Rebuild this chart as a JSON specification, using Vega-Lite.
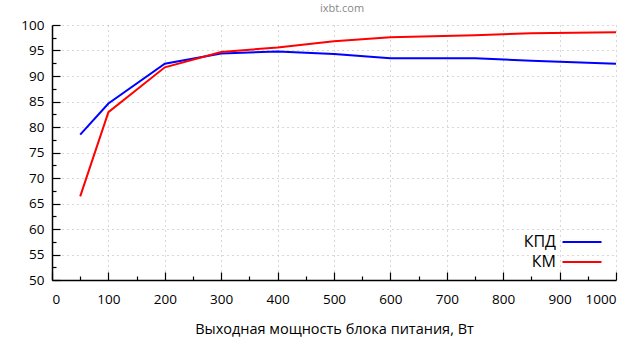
{
  "$schema": "https://vega.github.io/schema/vega-lite/v6.json",
  "width": 564,
  "height": 255,
  "autosize": "none",
  "padding": {"left": 52, "top": 25, "right": 24, "bottom": 80},
  "background": "white",
  "title": {"text": "ixbt.com", "fontSize": 11, "color": "#888888", "font": "Open Sans", "fontWeight": "normal", "offset": 4, "dx": 8, "anchor": "middle"},
  "config": {
    "view": {"stroke": null},
    "font": "Open Sans",
    "axis": {
      "labelFont": "Open Sans", "labelFontSize": 13.5, "labelColor": "#000000",
      "titleFont": "Open Sans", "titleFontSize": 14.5, "titleFontWeight": "normal", "titleColor": "#000000",
      "domainColor": "#000000", "domainWidth": 1.5, "tickColor": "#000000", "tickWidth": 1.2,
      "gridColor": "#b0b0b0", "gridDash": [1, 4], "gridWidth": 1
    }
  },
  "data": {"values": [
    {"p": 50, "v": 78.5, "s": "КПД"},
    {"p": 100, "v": 84.6, "s": "КПД"},
    {"p": 200, "v": 92.4, "s": "КПД"},
    {"p": 300, "v": 94.4, "s": "КПД"},
    {"p": 400, "v": 94.8, "s": "КПД"},
    {"p": 500, "v": 94.3, "s": "КПД"},
    {"p": 600, "v": 93.5, "s": "КПД"},
    {"p": 750, "v": 93.5, "s": "КПД"},
    {"p": 850, "v": 93.0, "s": "КПД"},
    {"p": 1000, "v": 92.4, "s": "КПД"},
    {"p": 50, "v": 66.4, "s": "КМ"},
    {"p": 100, "v": 82.9, "s": "КМ"},
    {"p": 200, "v": 91.7, "s": "КМ"},
    {"p": 300, "v": 94.7, "s": "КМ"},
    {"p": 400, "v": 95.6, "s": "КМ"},
    {"p": 500, "v": 96.8, "s": "КМ"},
    {"p": 600, "v": 97.6, "s": "КМ"},
    {"p": 750, "v": 98.0, "s": "КМ"},
    {"p": 850, "v": 98.4, "s": "КМ"},
    {"p": 1000, "v": 98.6, "s": "КМ"}
  ]},
  "layer": [
    {
      "mark": {"type": "line", "strokeWidth": 2},
      "encoding": {
        "x": {"field": "p", "type": "quantitative",
          "scale": {"domain": [0, 1000], "nice": false},
          "axis": {"orient": "bottom", "values": [0,100,200,300,400,500,600,700,800,900,1000], "format": "d", "tickSize": -8, "labelPadding": 20, "title": "Выходная мощность блока питания, Вт", "titlePadding": 17, "grid": true}},
        "y": {"field": "v", "type": "quantitative",
          "scale": {"domain": [50, 100], "nice": false, "zero": false},
          "axis": {"orient": "left", "values": [50,55,60,65,70,75,80,85,90,95,100], "format": "d", "tickSize": -8, "labelPadding": 16, "title": null, "grid": true}},
        "color": {"field": "s", "type": "nominal",
          "scale": {"domain": ["КПД", "КМ"], "range": ["#0000ff", "#ff0000"]},
          "legend": {"title": null, "orient": "none", "legendX": 522, "legendY": 209, "padding": 0,
            "symbolType": "M-3,0H3", "symbolSize": 169, "symbolStrokeWidth": 2, "symbolOpacity": 1,
            "labelAlign": "right", "labelOffset": -34, "labelFontSize": 16, "labelFont": "Open Sans", "labelColor": "#000000",
            "rowPadding": 4}}
      }
    },
    {
      "mark": {"type": "line", "opacity": 0},
      "encoding": {
        "x": {"field": "p", "type": "quantitative",
          "axis": {"orient": "bottom", "values": [50,150,250,350,450,550,650,750,850,950], "tickSize": -4, "labels": false, "domain": false, "grid": false, "title": null}},
        "y": {"field": "v", "type": "quantitative",
          "axis": {"orient": "left", "values": [52.5,57.5,62.5,67.5,72.5,77.5,82.5,87.5,92.5,97.5], "tickSize": -4, "labels": false, "domain": false, "grid": false, "title": null}},
        "detail": {"field": "s", "type": "nominal"}
      }
    }
  ],
  "resolve": {"axis": {"x": "independent", "y": "independent"}}
}
